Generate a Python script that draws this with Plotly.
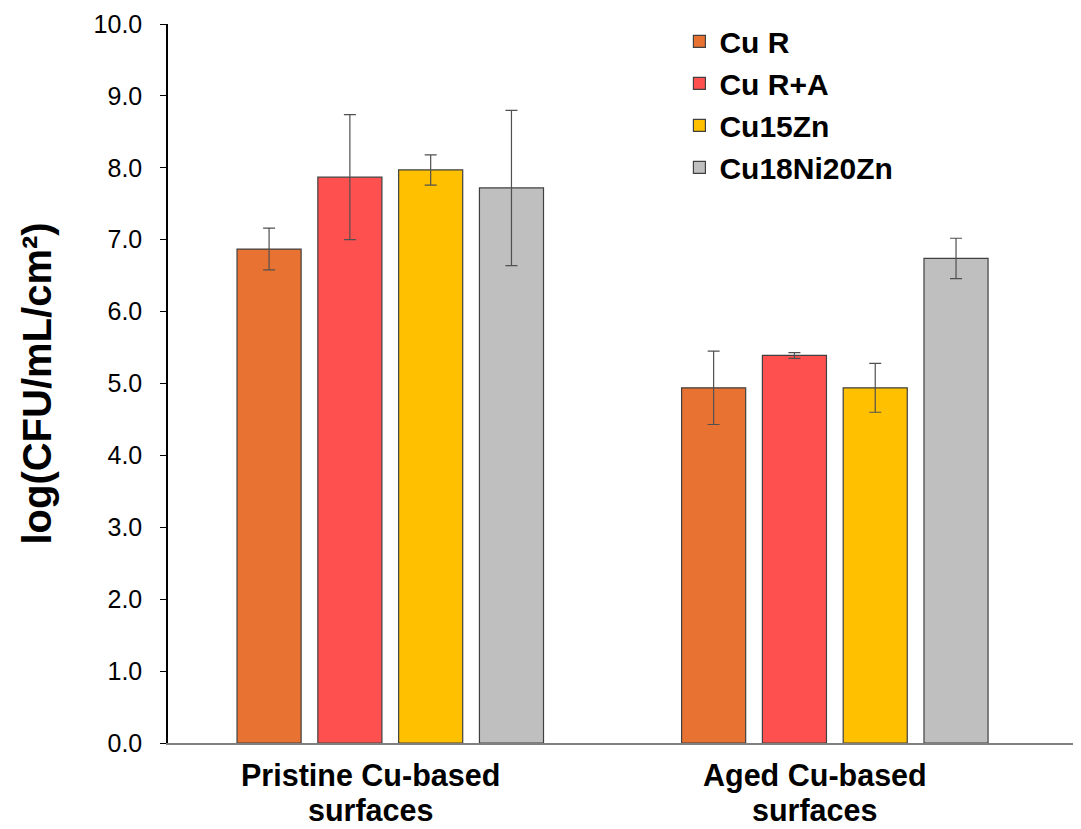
import plotly.graph_objects as go

categories = ["Pristine Cu-based<br>surfaces", "Aged Cu-based<br>surfaces"]
series_names = ["Cu R", "Cu R+A", "Cu15Zn", "Cu18Ni20Zn"]
values = {
    "Cu R": [6.87, 4.94],
    "Cu R+A": [7.87, 5.39],
    "Cu15Zn": [7.97, 4.94],
    "Cu18Ni20Zn": [7.72, 6.74],
}
errors = {
    "Cu R": [0.29, 0.51],
    "Cu R+A": [0.87, 0.04],
    "Cu15Zn": [0.21, 0.34],
    "Cu18Ni20Zn": [1.08, 0.28],
}
colors = {
    "Cu R": "#E87232",
    "Cu R+A": "#FF5050",
    "Cu15Zn": "#FFC000",
    "Cu18Ni20Zn": "#BFBFBF",
}
y_ticks = [i for i in range(0, 11)]
y_tick_labels = [f"{v:.1f}" for v in y_ticks]
y_title = "log(CFU/mL/cm²)"

fig = go.Figure()
for name in series_names:
    fig.add_trace(go.Bar(
        name=name,
        x=categories,
        y=values[name],
        marker=dict(color=colors[name], line=dict(color="#404040", width=1.2)),
        error_y=dict(type="data", array=errors[name], visible=True,
                     color="#505050", thickness=1.2, width=6),
    ))

font_family = "Liberation Sans, Arial, sans-serif"

# category labels as two-line annotations (tight line spacing like the reference)
for cat in categories:
    lines = cat.split("<br>")
    for i, line in enumerate(lines):
        fig.add_annotation(
            x=cat, xref="x", y=0, yref="paper",
            text=line, showarrow=False,
            xanchor="center", yanchor="middle",
            xshift=-20,
            yshift=-32 - 35 * i,
            font=dict(size=30.5, family=font_family, color="black", weight="bold"),
        )

fig.update_layout(
    width=1073, height=821,
    barmode="group",
    bargap=0.273,
    bargroupgap=0.207,
    plot_bgcolor="white",
    paper_bgcolor="white",
    font=dict(family=font_family, color="black"),
    margin=dict(l=160, r=3, t=16, b=86),
    legend=dict(
        x=0.562, y=1.012, xanchor="left", yanchor="top",
        font=dict(size=30, family=font_family, color="black", weight="bold"),
        bgcolor="rgba(0,0,0,0)",
        itemwidth=30,
        tracegroupgap=0,
    ),
    xaxis=dict(
        type="category",
        range=[-0.5, 1.547],
        showline=True, linecolor="#808080", linewidth=1.5,
        ticks="",
        showticklabels=False,
        showgrid=False,
    ),
    yaxis=dict(
        range=[0, 10],
        tickvals=y_ticks,
        ticktext=y_tick_labels,
        showline=True, linecolor="black", linewidth=1.5,
        ticks="outside", ticklen=6, tickcolor="black",
        tickfont=dict(size=25, family=font_family, color="black"),
        ticklabelstandoff=13,
        showgrid=False,
        zeroline=False,
        title=dict(text=y_title,
                   font=dict(size=40, family=font_family, color="black", weight="bold"),
                   standoff=30),
    ),
)

fig.write_html("out.html")
